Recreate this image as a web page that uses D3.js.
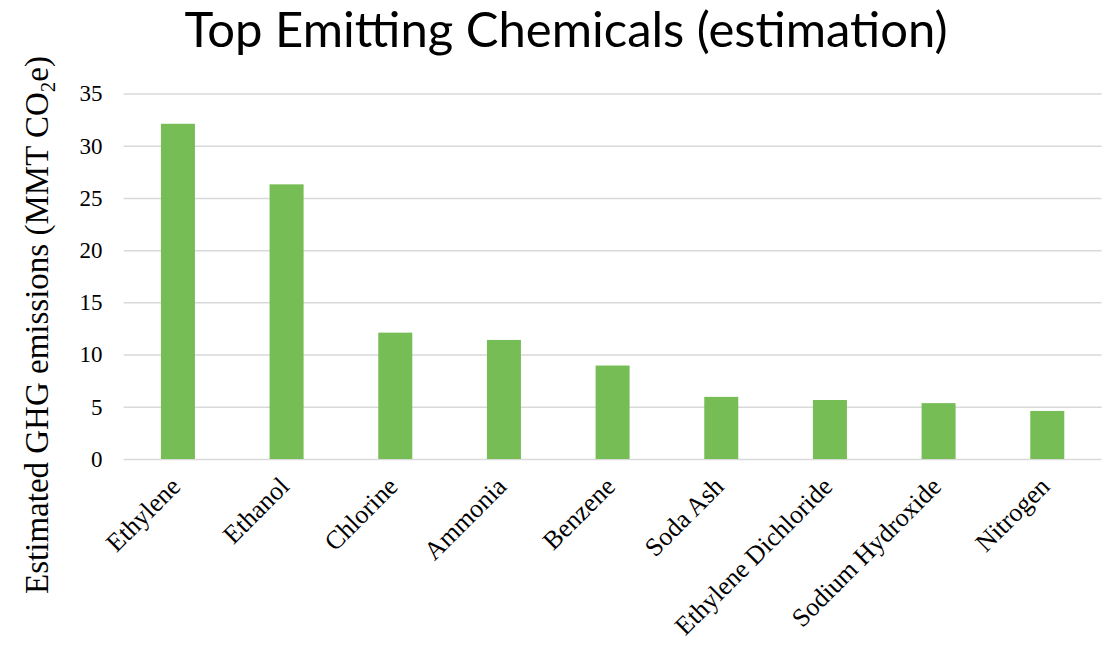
<!DOCTYPE html>
<html>
<head>
<meta charset="utf-8">
<script src="https://cdn.jsdelivr.net/npm/d3@7"></script>
<style>
    body { margin: 0; background: #fff; }
    svg { display: block; }
</style>
</head>
<body>
<svg id="chart" width="1102" height="646"></svg>
<script>
var chemicals = ["Ethylene", "Ethanol", "Chlorine", "Ammonia", "Benzene", "Soda Ash",
    "Ethylene Dichloride", "Sodium Hydroxide", "Nitrogen"];
var emissions = [32.1, 26.3, 12.1, 11.4, 8.95, 5.95, 5.65, 5.35, 4.6];
var yTicks = [0, 5, 10, 15, 20, 25, 30, 35];

var svg = d3.select("#chart"),
    width = +svg.attr("width"),
    height = +svg.attr("height");

var margin = {left: 123.6, right: 0.4, top: 93.5, bottom: 187};
var serif = "'Liberation Serif', 'Times New Roman', serif";

var x = d3.scaleBand()
    .domain(chemicals)
    .range([margin.left, width - margin.right])
    .paddingInner(0.687)
    .paddingOuter(0.3435);

var y = d3.scaleLinear()
    .domain([0, 35])
    .range([height - margin.bottom, margin.top]);

// gridlines
svg.append("g")
    .attr("class", "grid")
    .attr("transform", "translate(" + margin.left + ",0)")
    .call(d3.axisLeft(y).tickValues(yTicks).tickSize(-(width - margin.left - margin.right)).tickFormat(""))
    .call(function(g) { g.select(".domain").remove(); })
    .selectAll("line")
    .attr("stroke", "#d9d9d9")
    .attr("stroke-width", 1.5);

// tick labels
svg.append("g")
    .attr("transform", "translate(" + margin.left + ",0)")
    .call(d3.axisLeft(y).tickValues(yTicks).tickSize(0).tickPadding(21))
    .call(function(g) { g.select(".domain").remove(); })
    .selectAll("text")
    .attr("font-family", serif)
    .attr("font-size", 23)
    .attr("fill", "#000");

// bars
svg.append("g")
    .selectAll("rect")
    .data(chemicals)
    .enter().append("rect")
    .attr("x", function(d) { return x(d); })
    .attr("y", function(d, i) { return y(emissions[i]); })
    .attr("width", x.bandwidth())
    .attr("height", function(d, i) { return y(0) - y(emissions[i]); })
    .attr("fill", "#77bd55");

// x labels
svg.append("g")
    .selectAll("text")
    .data(chemicals)
    .enter().append("text")
    .attr("transform", function(d) {
        return "translate(" + (x(d) + x.bandwidth() / 2 + 4) + "," + (y(0) + 29) + ") rotate(-45)";
    })
    .attr("text-anchor", "end")
    .attr("font-family", serif)
    .attr("font-size", 26)
    .attr("fill", "#000")
    .text(function(d) { return d; });

// y axis title
var yt = svg.append("text")
    .attr("transform", "translate(48,325) rotate(-90)")
    .attr("text-anchor", "middle")
    .attr("font-family", serif)
    .attr("font-size", 33)
    .attr("fill", "#000");
yt.append("tspan").text("Estimated GHG emissions (MMT CO");
yt.append("tspan").attr("font-size", 21).attr("dy", 7).text("2");
yt.append("tspan").attr("dy", -7).text("e)");

// title
svg.append("text")
    .attr("x", 566)
    .attr("y", 47)
    .attr("text-anchor", "middle")
    .attr("font-family", "Lato, 'Open Sans', sans-serif")
    .attr("font-size", 49)
    .attr("fill", "#000")
    .text("Top Emitting Chemicals (estimation)");
</script>
</body>
</html>
